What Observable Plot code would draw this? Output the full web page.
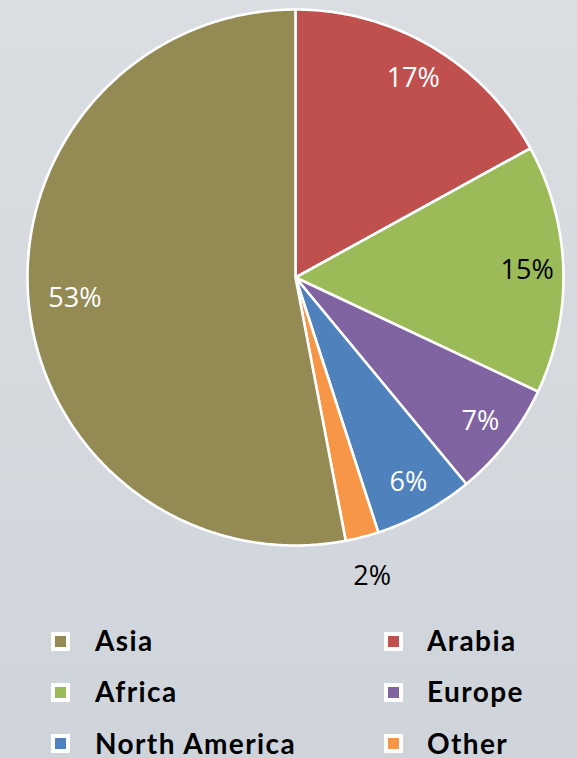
<!DOCTYPE html>
<html>
<head>
<meta charset="utf-8">
<script src="https://cdn.jsdelivr.net/npm/d3@7"></script>
<script src="https://cdn.jsdelivr.net/npm/@observablehq/plot@0.6"></script>
<style>
  html, body { margin: 0; padding: 0; }
  body {
    width: 577px; height: 758px; overflow: hidden; position: relative;
    background: linear-gradient(180deg, #dadee2 0%, #d6dadf 45%, #cfd4db 100%);
  }
  #chart { position: absolute; left: 0; top: 0; }
  .lg-mark {
    position: absolute; width: 19px; height: 19px; box-sizing: border-box;
    border: 4px solid #fff; border-radius: 1px;
  }
  .lg-text {
    position: absolute; font-family: Lato, sans-serif; font-weight: 700;
    font-size: 28px; line-height: 20px; height: 20px; color: #000; white-space: nowrap; letter-spacing: 1.4px;
  }
</style>
</head>
<body>
<div id="chart"></div>
<div id="legend"></div>
<script>
// ---- data ----
const categories = ["Arabia", "Africa", "Europe", "North America", "Other", "Asia"];
const shares = [17, 15, 7, 6, 2, 53];
const legendOrder = ["Asia", "Arabia", "Africa", "Europe", "North America", "Other"];
const palette = ["#c0504d", "#9bbb59", "#8064a2", "#4f81bd", "#f79646", "#948a54"];

// ---- build slices (clockwise from 12 o'clock) ----
const total = d3.sum(shares);
let acc = 0;
const slices = categories.map((name, i) => {
  const a0 = acc / total * 2 * Math.PI;
  acc += shares[i];
  const a1 = acc / total * 2 * Math.PI;
  return {name, value: shares[i], a0, a1};
});

const features = slices.map(s => {
  const n = Math.max(2, Math.ceil((s.a1 - s.a0) / (Math.PI / 360)));
  const ring = [[0, 0]];
  for (let k = 0; k <= n; k++) {
    const a = s.a0 + (s.a1 - s.a0) * k / n;
    ring.push([Math.sin(a), Math.cos(a)]);
  }
  ring.push([0, 0]);
  return {type: "Feature", properties: {name: s.name, value: s.value}, geometry: {type: "Polygon", coordinates: [ring]}};
});

const labels = slices.map(s => {
  const frac = s.value / total;
  const outside = frac < 0.03;
  const r = outside ? 1.15 : 0.88 - 0.1 * frac;
  const m = (s.a0 + s.a1) / 2;
  return {name: s.name, text: `${s.value}%`, x: r * Math.sin(m), y: r * Math.cos(m), outside};
});
const colorOf = name => palette[categories.indexOf(name)];
const inkOf = d => d.outside ? "#000" : (d3.lab(colorOf(d.name)).l > 65 ? "#000" : "#fff");

const W = 577, H = 600;
const plot = Plot.plot({
  width: W,
  height: H,
  marginTop: 9,
  marginLeft: 27,
  marginRight: 14,
  marginBottom: 55,
  projection: {type: "reflect-y", clip: null, domain: {type: "MultiPoint", coordinates: [[-1, -1], [1, 1]]}},
  color: {domain: categories, range: palette},
  style: {background: "transparent", overflow: "visible"},
  marks: [
    Plot.geo(features, {fill: d => d.properties.name, stroke: "#fff", strokeWidth: 2.6, strokeLinejoin: "round"}),
    Plot.text(labels, {
      x: "x", y: "y", text: "text",
      fill: inkOf,
      fontSize: 27,
      fontFamily: "'Open Sans', sans-serif",
      textAnchor: "middle",
      lineAnchor: "middle"
    })
  ]
});
document.getElementById("chart").appendChild(plot);

// ---- legend ----
const legend = document.getElementById("legend");
const colX = [{mark: 51, text: 95}, {mark: 384, text: 427}];
legendOrder.forEach((name, i) => {
  const col = i % 2, row = Math.floor(i / 2);
  const baseline = 650.7 + row * 51.1;
  const m = document.createElement("div");
  m.className = "lg-mark";
  m.style.left = colX[col].mark + "px";
  m.style.top = (baseline - 19) + "px";
  m.style.background = colorOf(name);
  legend.appendChild(m);
  const t = document.createElement("div");
  t.className = "lg-text";
  t.style.left = colX[col].text + "px";
  t.style.top = (baseline - 20.4) + "px";
  t.textContent = name;
  legend.appendChild(t);
});
</script>
</body>
</html>
